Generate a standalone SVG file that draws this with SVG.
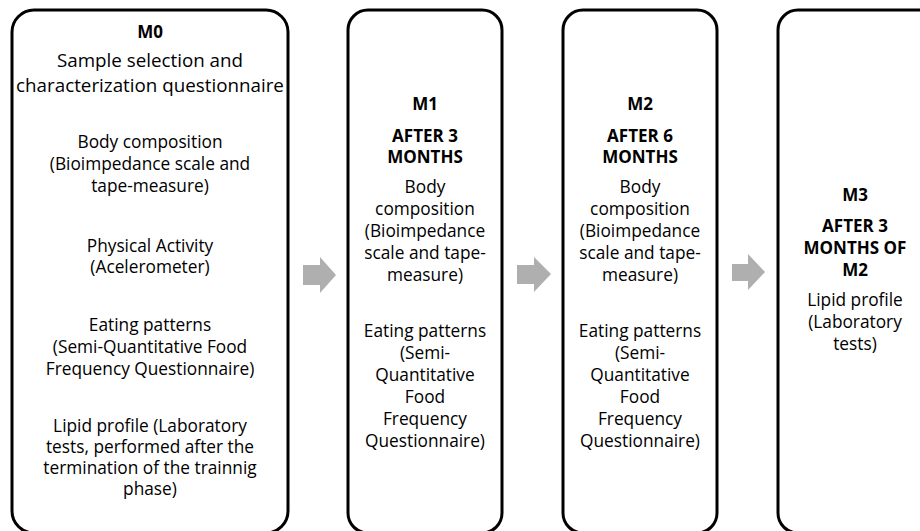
<svg xmlns="http://www.w3.org/2000/svg" width="920" height="531" viewBox="0 0 920 531">
<style>
.box{fill:#ffffff;stroke:#000000;stroke-width:3}
.arrow{fill:#afafaf;stroke:none}
text{font-family:"Open Sans","Noto Sans","Liberation Sans",sans-serif;fill:#000000;text-anchor:middle}
.b{font-size:17.3px}
.big{font-size:18.8px}
.h{font-size:17px;font-weight:bold}
</style>
<rect width="920" height="531" fill="#ffffff"/>
<g id="connectors">
<polygon class="arrow" points="303,265 320,265 320,257 336,275 320,293 320,285 303,285"/>
<polygon class="arrow" points="517,265 534,265 534,257 551,274 534,292 534,284 517,284"/>
<polygon class="arrow" points="732,264 748,264 748,254 765,272 748,290 748,281 732,281"/>
</g>
<g id="M0">
<rect class="box" x="12" y="10" width="276" height="523" rx="22"/>
<text class="h" x="150" y="38">M0</text>
<text class="big" x="150" y="67">Sample selection and</text>
<text class="big" x="150" y="92">characterization questionnaire</text>
<text class="b" x="150" y="148">Body composition</text>
<text class="b" x="150" y="170">(Bioimpedance scale and</text>
<text class="b" x="150" y="192">tape-measure)</text>
<text class="b" x="150" y="252">Physical Activity</text>
<text class="b" x="150" y="273">(Acelerometer)</text>
<text class="b" x="150" y="331">Eating patterns</text>
<text class="b" x="150" y="353">(Semi-Quantitative Food</text>
<text class="b" x="150" y="375">Frequency Questionnaire)</text>
<text class="b" x="150" y="432">Lipid profile (Laboratory</text>
<text class="b" x="150" y="453">tests, performed after the</text>
<text class="b" x="150" y="474">termination of the trainnig</text>
<text class="b" x="150" y="495">phase)</text>
</g>
<g id="M1">
<rect class="box" x="348" y="10" width="154" height="523" rx="20"/>
<text class="h" x="425" y="110">M1</text>
<text class="h" x="425" y="142">AFTER 3</text>
<text class="h" x="425" y="163">MONTHS</text>
<text class="b" x="425" y="193">Body</text>
<text class="b" x="425" y="215">composition</text>
<text class="b" x="425" y="237">(Bioimpedance</text>
<text class="b" x="425" y="259">scale and tape-</text>
<text class="b" x="425" y="281">measure)</text>
<text class="b" x="425" y="337">Eating patterns</text>
<text class="b" x="425" y="359">(Semi-</text>
<text class="b" x="425" y="381">Quantitative</text>
<text class="b" x="425" y="403">Food</text>
<text class="b" x="425" y="425">Frequency</text>
<text class="b" x="425" y="447">Questionnaire)</text>
</g>
<g id="M2">
<rect class="box" x="563" y="10" width="154" height="523" rx="20"/>
<text class="h" x="640" y="110">M2</text>
<text class="h" x="640" y="142">AFTER 6</text>
<text class="h" x="640" y="163">MONTHS</text>
<text class="b" x="640" y="193">Body</text>
<text class="b" x="640" y="215">composition</text>
<text class="b" x="640" y="237">(Bioimpedance</text>
<text class="b" x="640" y="259">scale and tape-</text>
<text class="b" x="640" y="281">measure)</text>
<text class="b" x="640" y="337">Eating patterns</text>
<text class="b" x="640" y="359">(Semi-</text>
<text class="b" x="640" y="381">Quantitative</text>
<text class="b" x="640" y="403">Food</text>
<text class="b" x="640" y="425">Frequency</text>
<text class="b" x="640" y="447">Questionnaire)</text>
</g>
<g id="M3">
<rect class="box" x="778" y="10" width="160" height="523" rx="20"/>
<text class="h" x="855" y="201">M3</text>
<text class="h" x="855" y="232">AFTER 3</text>
<text class="h" x="855" y="254">MONTHS OF</text>
<text class="h" x="855" y="276">M2</text>
<text class="b" x="855" y="306">Lipid profile</text>
<text class="b" x="855" y="328">(Laboratory</text>
<text class="b" x="855" y="350">tests)</text>
</g>
</svg>
